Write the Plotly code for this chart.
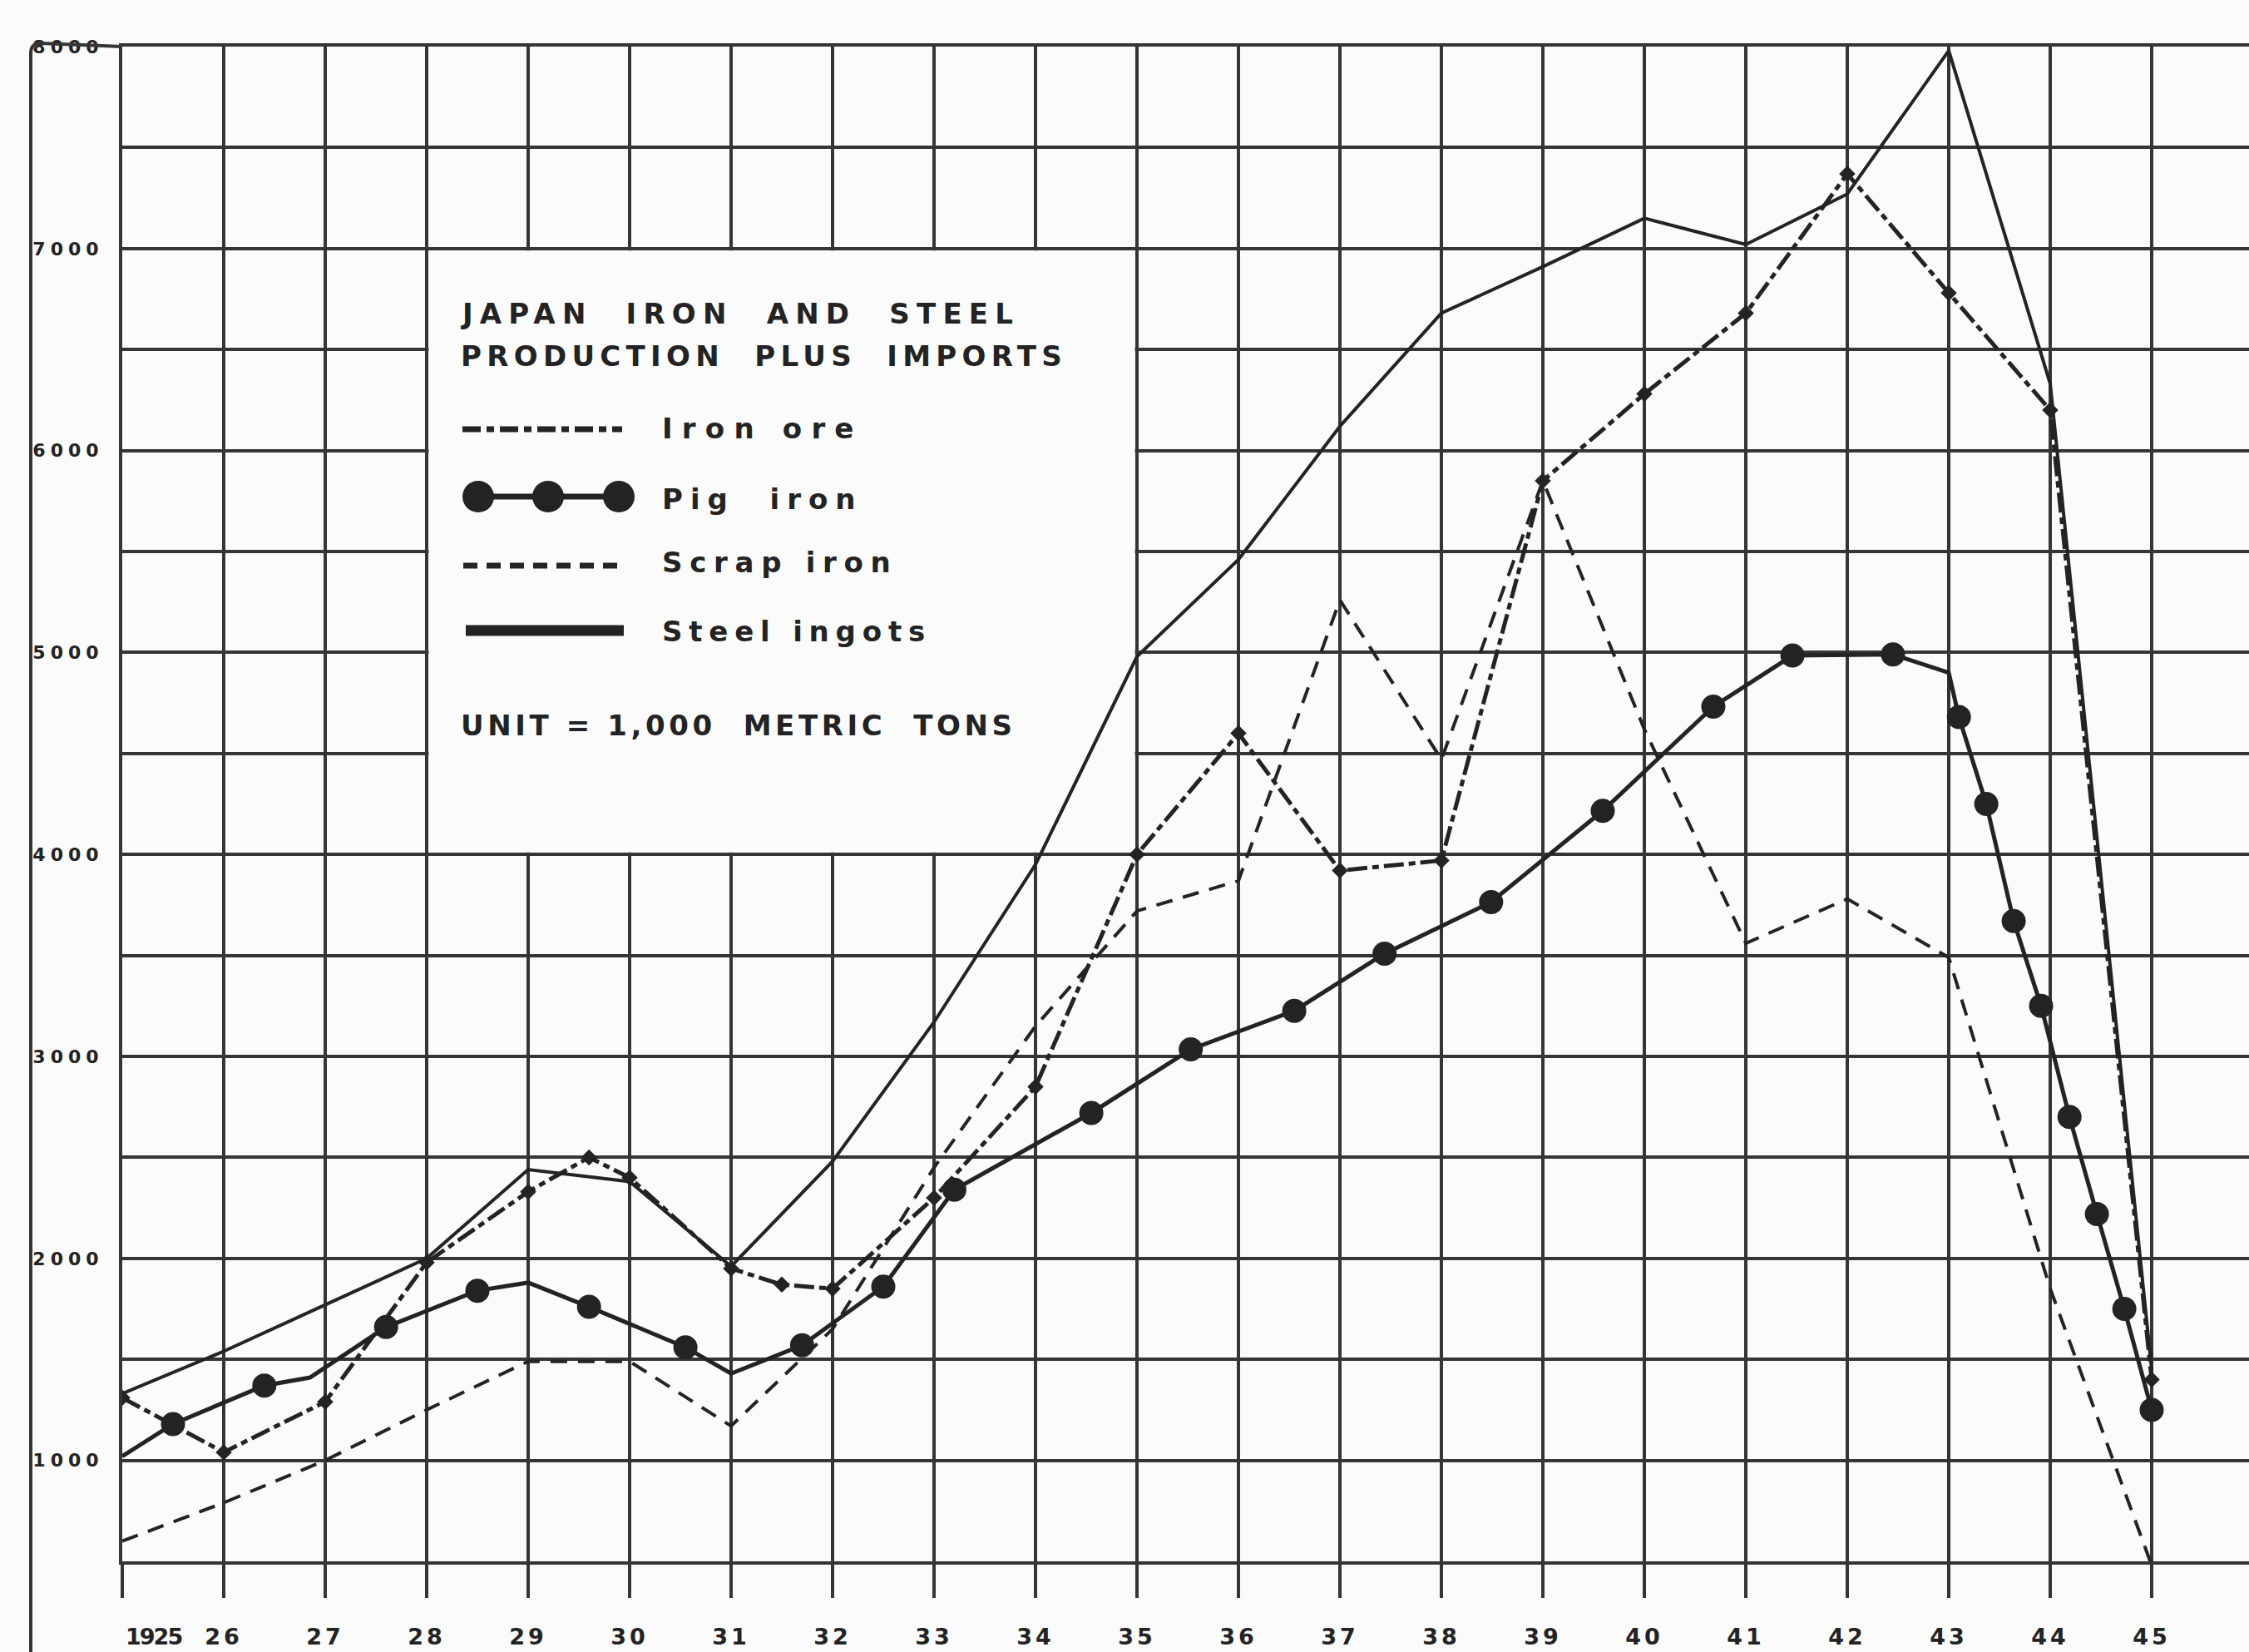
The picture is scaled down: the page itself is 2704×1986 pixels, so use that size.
import plotly.graph_objects as go

# ---- data (thousand metric tons) ----
years = list(range(1925, 1946))
year_labels = ["1925", "26", "27", "28", "29", "30", "31", "32", "33", "34", "35",
               "36", "37", "38", "39", "40", "41", "42", "43", "44", "45"]
value_labels = ["1000", "2000", "3000", "4000", "5000", "6000", "7000", "8000"]

steel_ingots = [1330, 1540, 1770, 2000, 2440, 2380, 1960, 2480, 3170, 3950, 4980,
                5460, 6120, 6680, 6910, 7150, 7020, 7270, 7980, 6330, 1450]

scrap_iron = [600, 790, 1000, 1250, 1490, 1490, 1170, 1650, 2450, 3150, 3720,
              3870, 5260, 4470, 5850, 4620, 3560, 3780, 3490, 1850, 480]

iron_ore_years = [1925, 1926, 1927, 1928, 1929, 1929.6, 1930, 1931, 1931.5, 1932,
                  1933, 1934, 1935, 1936, 1937, 1938, 1939, 1940, 1941, 1942,
                  1943, 1944, 1945]
iron_ore = [1310, 1040, 1290, 1980, 2330, 2500, 2400, 1950, 1870, 1850,
            2300, 2850, 4000, 4600, 3920, 3970, 5850, 6280, 6680, 7370,
            6780, 6200, 1400]

pig_iron_years = [1925, 1925.5, 1926.4, 1926.85, 1927.6, 1928.5, 1929, 1929.6,
                  1930.55, 1931, 1931.7, 1932.5, 1933.2, 1934.55, 1935.53,
                  1936.55, 1937.44, 1938.49, 1939.59, 1940.68, 1941.46, 1942.45,
                  1943, 1943.1, 1943.37, 1943.64, 1943.91, 1944.19, 1944.46,
                  1944.73, 1945]
pig_iron = [1020, 1180, 1370, 1410, 1660, 1840, 1880, 1760,
            1560, 1430, 1570, 1860, 2340, 2720, 3035,
            3226, 3509, 3764, 4216, 4732, 4985, 4990,
            4900, 4680, 4250, 3670, 3250, 2700, 2220,
            1750, 1250]
pig_iron_dot = [0, 1, 1, 0, 1, 1, 0, 1,
                1, 0, 1, 1, 1, 1, 1,
                1, 1, 1, 1, 1, 1, 1,
                0, 1, 1, 1, 1, 1, 1,
                1, 1]

# ---- page geometry / style ----
W, H = 2704, 1986
L, R, T, B = 147, 0, 56, 109
PX_PER_YEAR = 122.0
X_RANGE = [1925, 1925 + (W - L - R) / PX_PER_YEAR]
Y_RANGE = [500, 8000]
PW, PH = W - L - R, H - T - B

BG = "#fbfbfb"
INK = "#232323"
GRID = "#353535"
FONT = "DejaVu Sans"


def px_x(px):
    return (px - L) / PW


def px_y(py):
    return (H - B - py) / PH


def spaced(text, gap):
    return f'<span style="letter-spacing:{gap}px">{text}</span>'


fig = go.Figure()

fig.add_trace(go.Scatter(
    x=years, y=scrap_iron, mode="lines", name="Scrap iron",
    line=dict(color=INK, width=4, dash="20px,13px"),
))
fig.add_trace(go.Scatter(
    x=iron_ore_years, y=iron_ore, mode="lines+markers", name="Iron ore",
    line=dict(color=INK, width=5, dash="24px,6px,8px,6px"),
    marker=dict(symbol="diamond", size=15, color=INK, opacity=1),
))
fig.add_trace(go.Scatter(
    x=pig_iron_years, y=pig_iron, mode="lines+markers", name="Pig iron",
    line=dict(color=INK, width=5),
    marker=dict(size=[29 if d else 0 for d in pig_iron_dot], color=INK,
                opacity=1, line=dict(width=0)),
))
fig.add_trace(go.Scatter(
    x=years, y=steel_ingots, mode="lines", name="Steel ingots",
    line=dict(color=INK, width=4),
))

shapes = []
# white panel holding the key, cut out of the grid
shapes.append(dict(type="rect", xref="x", yref="y", layer="between",
                   x0=1928.02, x1=1934.98, y0=4010, y1=6990,
                   fillcolor=BG, line=dict(width=0)))

# outer frame on the left, with rounded top corner
fx, fy = px_x(37), px_y(T - 4)
r_x, r_y = 12 / PW, 12 / PH
shapes.append(dict(
    type="path", xref="paper", yref="paper",
    path=(f"M {fx},{px_y(H + 5)} L {fx},{fy - r_y} "
          f"Q {fx},{fy} {fx + r_x},{fy} L 0,{px_y(T)}"),
    line=dict(color=GRID, width=4),
))

# key samples
row_y = {"ore": 516, "pig": 597, "scrap": 680, "steel": 758}
shapes.append(dict(type="line", xref="paper", yref="paper",
                   x0=px_x(556), x1=px_x(748), y0=px_y(row_y["ore"]), y1=px_y(row_y["ore"]),
                   line=dict(color=INK, width=7, dash="22px,7px,9px,7px")))
shapes.append(dict(type="line", xref="paper", yref="paper",
                   x0=px_x(575), x1=px_x(744), y0=px_y(row_y["pig"]), y1=px_y(row_y["pig"]),
                   line=dict(color=INK, width=7)))
for cx in (575, 659, 744):
    rr = 19
    shapes.append(dict(type="circle", xref="paper", yref="paper",
                       x0=px_x(cx - rr), x1=px_x(cx + rr),
                       y0=px_y(row_y["pig"] + rr), y1=px_y(row_y["pig"] - rr),
                       fillcolor=INK, line=dict(width=0)))
shapes.append(dict(type="line", xref="paper", yref="paper",
                   x0=px_x(557), x1=px_x(742), y0=px_y(row_y["scrap"]), y1=px_y(row_y["scrap"]),
                   line=dict(color=INK, width=7, dash="17px,11px")))
shapes.append(dict(type="line", xref="paper", yref="paper",
                   x0=px_x(560), x1=px_x(750), y0=px_y(row_y["steel"]), y1=px_y(row_y["steel"]),
                   line=dict(color=INK, width=13)))

key_font = dict(family=FONT, size=34, color=INK, weight="bold")
annotations = []


def key_text(txt, x, y, gap):
    annotations.append(dict(text=spaced(txt, gap), xref="paper", yref="paper",
                            x=px_x(x), y=px_y(y), xanchor="left", yanchor="middle",
                            showarrow=False, font=key_font))


key_text("JAPAN  IRON  AND  STEEL", 552, 377, 8.2)
key_text("PRODUCTION  PLUS  IMPORTS", 552, 428, 6.3)
key_text("Iron ore", 794, 515, 11.2)
key_text("Pig  iron", 794, 600, 9.0)
key_text("Scrap iron", 794, 676, 8.7)
key_text("Steel ingots", 794, 759, 7.8)
key_text("UNIT = 1,000  METRIC  TONS", 552, 872, 4.6)

y_tick_vals = list(range(500, 8001, 500))
y_tick_text = [spaced(str(v), 6) if str(v) in value_labels else "" for v in y_tick_vals]

# the first year label sits just right of the left edge
x_tick_text = [("\u00a0" * 8 + spaced(t, -2)) if i == 0 else spaced(t, 4)
               for i, t in enumerate(year_labels)]

fig.update_layout(
    width=W, height=H,
    margin=dict(l=L, r=R, t=T, b=B, autoexpand=False),
    paper_bgcolor=BG, plot_bgcolor=BG,
    showlegend=False,
    font=dict(family=FONT, color=INK),
    shapes=shapes,
    annotations=annotations,
    xaxis=dict(
        range=X_RANGE, tickmode="array", tickvals=years,
        ticktext=x_tick_text,
        ticks="outside", ticklen=40, tickwidth=4, tickcolor=GRID,
        tickfont=dict(family=FONT, size=27, color=INK, weight="bold"),
        ticklabelstandoff=24,
        showgrid=True, gridcolor=GRID, gridwidth=4,
        showline=True, linecolor=GRID, linewidth=4, mirror=True,
        zeroline=False,
    ),
    yaxis=dict(
        range=Y_RANGE, tickmode="array", tickvals=y_tick_vals, ticktext=y_tick_text,
        ticks="",
        tickfont=dict(family=FONT, size=22, color=INK, weight="bold"),
        ticklabelstandoff=14,
        showgrid=True, gridcolor=GRID, gridwidth=4,
        showline=True, linecolor=GRID, linewidth=4,
        zeroline=False,
    ),
)

fig.write_html("out.html")
